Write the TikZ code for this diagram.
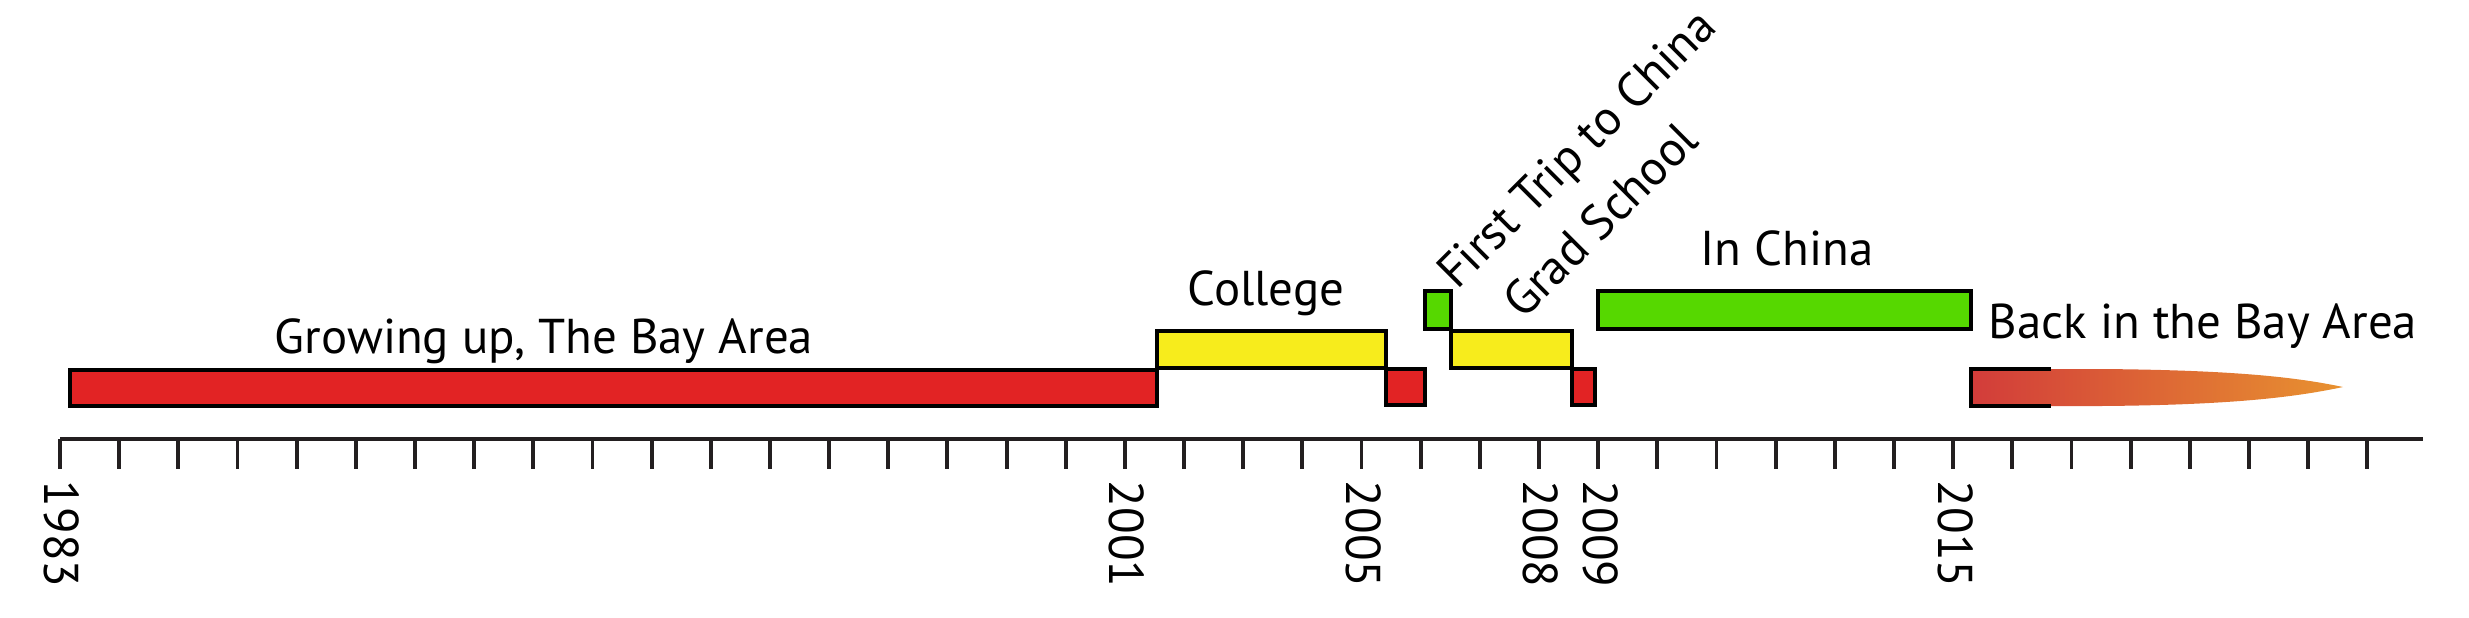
\documentclass[tikz,border=0pt]{standalone}
\usepackage{fontspec}
\setmainfont{PT Sans}
\definecolor{barred}{RGB}{226,35,36}
\definecolor{baryellow}{RGB}{247,236,28}
\definecolor{bargreen}{RGB}{86,216,0}
\definecolor{gradred}{RGB}{210,60,58}
\definecolor{gradorange}{RGB}{232,146,48}
\definecolor{axisgray}{RGB}{35,31,32}
\tikzset{
  barbox/.style={draw=black, line width=1.2pt},
  lbl/.style={inner sep=0pt, font=\fontsize{13.9pt}{16pt}\selectfont},
  yearlbl/.style={lbl, rotate=-90, anchor=west},
  axisline/.style={draw=axisgray, line width=1.1pt},
  tickline/.style={draw=axisgray, line width=1.1pt}
}
\begin{document}
\begin{tikzpicture}[x=0.01cm, y=-0.01cm]
\useasboundingbox (0,0) rectangle (2469,617);
% axis
\coordinate (axL) at (60,439);
\coordinate (axR) at (2423,439);
\draw[axisline] (axL) -- (axR);
\foreach \i in {0,...,39} {
  \draw[tickline] ({60+\i*59.16},439) -- ({60+\i*59.16},469);
}
% year labels
\foreach \yr in {1983,2001,2005,2008,2009,2015} {
  \node[yearlbl] (y\yr) at ({62+(\yr-1983)*59.16},480) {\yr};
}
% back in the bay area gradient
\shade[left color=gradred, right color=gradorange]
  (1971,369) -- (2100,369) .. controls (2240,370) and (2300,378) .. (2343,387)
  .. controls (2300,396) and (2240,405) .. (2100,406) -- (1971,406) -- cycle;
\draw[barbox] (2051,369) -- (1971,369) -- (1971,406) -- (2051,406);
% bars
\draw[barbox, fill=barred]    (70,370)   rectangle (1157,406);
\draw[barbox, fill=baryellow] (1157,331) rectangle (1386,368);
\draw[barbox, fill=barred]    (1386,369) rectangle (1425,405);
\draw[barbox, fill=bargreen]  (1425,291) rectangle (1451,329);
\draw[barbox, fill=baryellow] (1451,331) rectangle (1572,368);
\draw[barbox, fill=barred]    (1572,369) rectangle (1595,405);
\draw[barbox, fill=bargreen]  (1598,291) rectangle (1971,329);
% labels
\node[lbl, anchor=base] (growing) at (544,353) {Growing up, The Bay Area};
\node[lbl, anchor=base] (college) at (1266,305) {College};
\node[lbl, anchor=base] (inchina) at (1787,265) {In China};
\node[lbl, anchor=base] (back) at (2203,338) {Back in the Bay Area};
\node[lbl, anchor=base, rotate=45] (firsttrip) at (1588,160) {First Trip to China};
\node[lbl, anchor=base, rotate=45] (grad) at (1612,232) {Grad School};
\end{tikzpicture}
\end{document}
